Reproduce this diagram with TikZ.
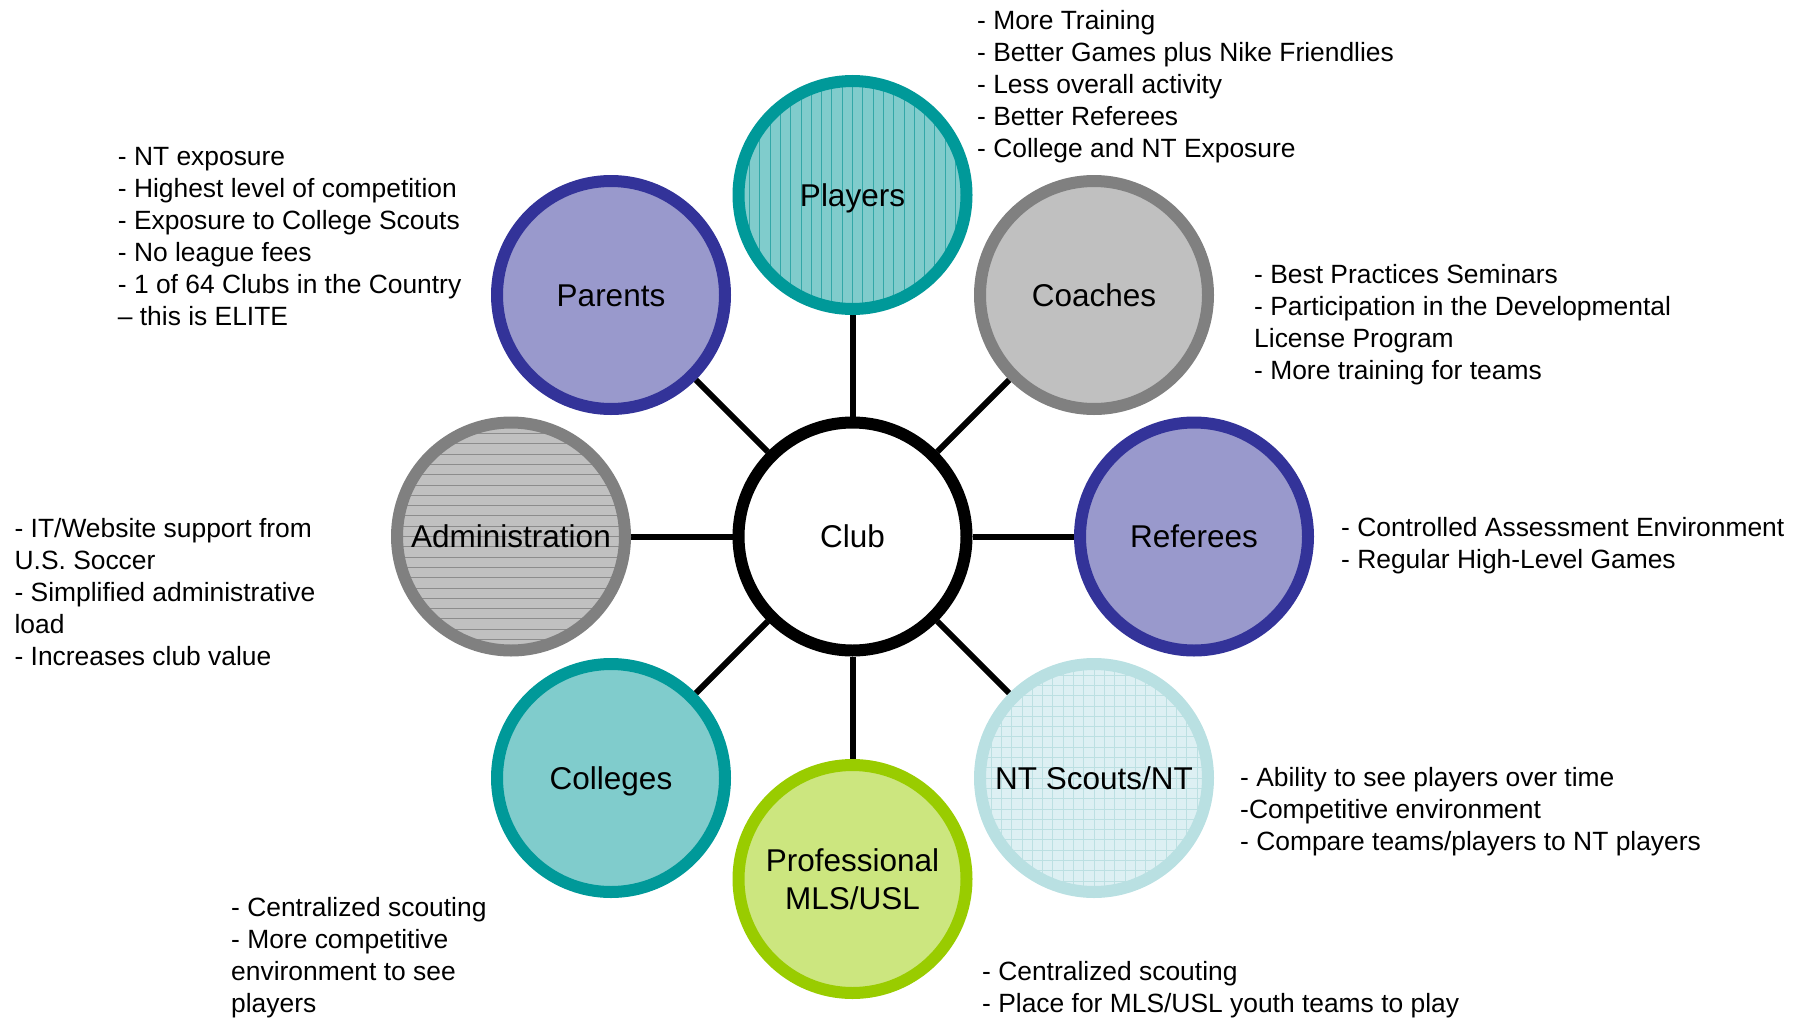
\documentclass[tikz,border=0pt]{standalone}
\usepackage{fontspec}
\setmainfont{Liberation Sans}
\usetikzlibrary{backgrounds}
\definecolor{tealring}{HTML}{009999}
\definecolor{tealfill}{HTML}{80CCCC}
\definecolor{tealline}{HTML}{33A8A8}
\definecolor{bluering}{HTML}{333399}
\definecolor{bluefill}{HTML}{9999CC}
\definecolor{grayring}{HTML}{808080}
\definecolor{grayfill}{HTML}{C0C0C0}
\definecolor{grayline}{HTML}{8C8C8C}
\definecolor{ltring}{HTML}{B9E0E2}
\definecolor{ltfill}{HTML}{DDF0F3}
\definecolor{ltline}{HTML}{BCE0E2}
\definecolor{greenring}{HTML}{99CC00}
\definecolor{greenfill}{HTML}{CCE67F}
\tikzset{
  bubble/.style={circle, minimum size=228pt, inner sep=0pt, line width=12pt,
    font=\fontsize{31.5}{38}\selectfont, align=center},
  oneline/.style={text height=22pt, text depth=0pt},
  vlines/.style={path picture={\foreach \i in {-12,...,12}
    \draw[tealline, line width=0.9pt] ([xshift=\i*10.3pt]path picture bounding box.north) -- ([xshift=\i*10.3pt]path picture bounding box.south);}},
  hlines/.style={path picture={\foreach \i in {-12,...,12}
    \draw[grayline, line width=0.9pt] ([yshift=\i*10.3pt]path picture bounding box.west) -- ([yshift=\i*10.3pt]path picture bounding box.east);}},
  gridlines/.style={path picture={\foreach \i in {-12,...,12}{
    \draw[ltline, line width=0.8pt] ([xshift=\i*10.3pt]path picture bounding box.north) -- ([xshift=\i*10.3pt]path picture bounding box.south);
    \draw[ltline, line width=0.8pt] ([yshift=\i*10.3pt]path picture bounding box.west) -- ([yshift=\i*10.3pt]path picture bounding box.east);}}},
  conn/.style={line width=6pt, black},
  side/.style={anchor=north west, inner sep=0pt, align=left, font=\fontsize{26.4}{32}\selectfont}
}
\begin{document}
\begin{tikzpicture}[x=1pt,y=-1pt]
\useasboundingbox (0,0) rectangle (1801,1017);
% bubbles
\node[bubble, oneline, draw=black, fill=white] (club) at (852.5,536.5) {Club};
\node[bubble, oneline, draw=tealring, fill=tealfill, vlines] (players) at (852.5,195) {Players};
\node[bubble, oneline, draw=bluering, fill=bluefill] (parents) at (611,295) {Parents};
\node[bubble, oneline, draw=grayring, fill=grayfill] (coaches) at (1094,295) {Coaches};
\node[bubble, oneline, draw=grayring, fill=grayfill, hlines] (admin) at (511,536.5) {Administration};
\node[bubble, oneline, draw=bluering, fill=bluefill] (referees) at (1194,536.5) {Referees};
\node[bubble, oneline, draw=tealring, fill=tealfill] (colleges) at (611,778) {Colleges};
\node[bubble, oneline, draw=ltring, fill=ltfill, gridlines] (ntscouts) at (1094,778) {NT Scouts/NT};
\node[bubble, draw=greenring, fill=greenfill] (pro) at (852.5,879) {Professional\\MLS/USL};
% connectors
\begin{scope}[on background layer]
\foreach \n in {players,parents,coaches,admin,referees,colleges,ntscouts,pro}
  \draw[conn] (club) -- (\n);
\end{scope}
% side texts
\node[side] (tplayers) at (977,10.6) {- More Training\\- Better Games plus Nike Friendlies\\- Less overall activity\\- Better Referees\\- College and NT Exposure};
\node[side] (tparents) at (117.7,147) {- NT exposure\\- Highest level of competition\\- Exposure to College Scouts\\- No league fees\\- 1 of 64 Clubs in the Country\\– this is ELITE};
\node[side] (tcoaches) at (1254,264.6) {- Best Practices Seminars\\- Participation in the Developmental\\License Program\\- More training for teams};
\node[side] (treferees) at (1341,517.3) {- Controlled Assessment Environment\\- Regular High-Level Games};
\node[side] (tadmin) at (14.4,518) {- IT/Website support from\\U.S. Soccer\\- Simplified administrative\\load\\- Increases club value};
\node[side] (tnt) at (1240,767.3) {- Ability to see players over time\\-Competitive environment\\- Compare teams/players to NT players};
\node[side] (tcolleges) at (231,897) {- Centralized scouting\\- More competitive\\environment to see\\players};
\node[side] (tpro) at (982,961.3) {- Centralized scouting\\- Place for MLS/USL youth teams to play};
\end{tikzpicture}
\end{document}
